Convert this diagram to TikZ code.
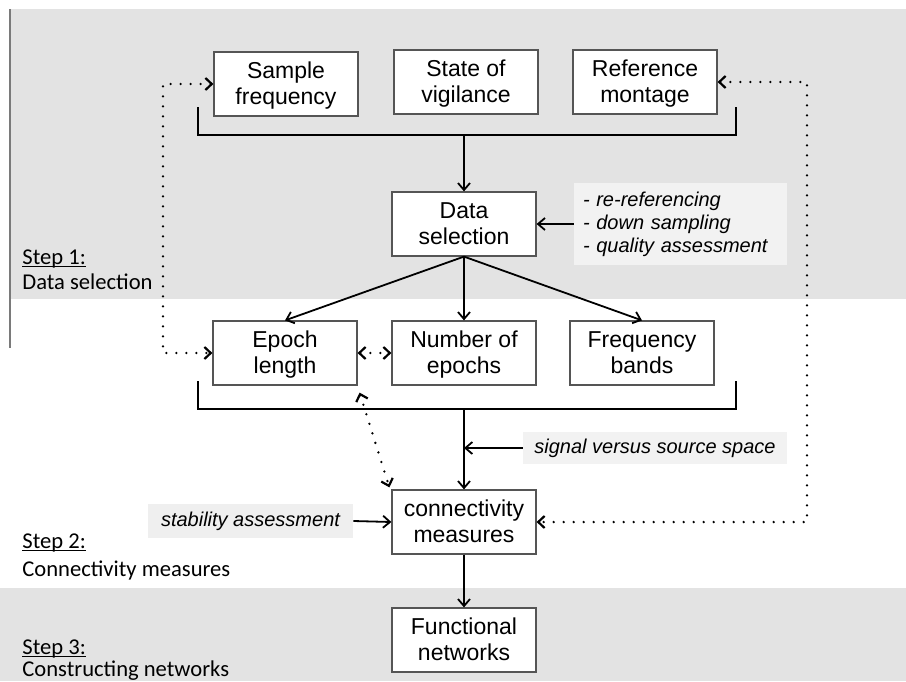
\documentclass[tikz,border=0pt]{standalone}
\usepackage{fontspec}
\setmainfont{Liberation Sans}
\newfontfamily\stepfont{Carlito}
\usetikzlibrary{arrows.meta}
\definecolor{band}{HTML}{E3E3E3}
\definecolor{note}{HTML}{F2F2F2}
\definecolor{notew}{HTML}{EFEFEF}
\definecolor{frame}{HTML}{555555}
\definecolor{edge}{HTML}{7A7A7A}
% underline that sits just under the baseline (descenders cross it)
\newcommand\stepul[1]{\setbox0\hbox{#1}\rlap{\rule[-1.3pt]{\wd0}{0.55pt}}\box0}
% two-line box label with equal line heights
\newcommand\bstrut{\rule[-2.7pt]{0pt}{13pt}}
\newcommand\twoline[2]{\bstrut#1\\\bstrut#2}

\begin{document}
\begin{tikzpicture}[x=0.5pt,y=-0.5pt,
  box/.style={draw=frame,line width=0.6pt,fill=white,minimum width=72pt,
    minimum height=32pt,align=center,inner sep=0pt,
    font=\fontsize{11.5}{13}\selectfont},
  notebox/.style={fill=note,inner sep=0pt,font=\fontsize{10}{11.5}\selectfont\itshape},
  steplbl/.style={anchor=base west,inner sep=0pt,font=\fontsize{11.3}{13}\stepfont},
  flow/.style={line width=0.9pt,-{Straight Barb[length=3.5pt,width=6pt]}},
  bracket/.style={line width=0.9pt},
  dotline/.style={line width=1.3pt,line cap=round,dash pattern=on 0pt off 5pt,
    {Straight Barb[length=3.2pt,width=6pt,line width=1.1pt]}-{Straight Barb[length=3.2pt,width=6pt,line width=1.1pt]}}]

\useasboundingbox (0,0) rectangle (906,681);

% shaded bands for steps 1 and 3
\fill[band] (10,9) rectangle (906,299);
\fill[band] (0,588) rectangle (906,681);
\draw[edge,line width=0.6pt] (10,9) -- (10,348);

% step labels
\node[steplbl] (s1a) at (22,264) {\stepul{Step 1:}};
\node[steplbl] (s1b) at (22,289) {Data selection};
\node[steplbl] (s2a) at (22,548) {\stepul{Step 2:}};
\node[steplbl] (s2b) at (22,576) {Connectivity measures};
\node[steplbl] (s3a) at (22,654) {\stepul{Step 3:}};
\node[steplbl] (s3b) at (22,676) {Constructing networks};

% boxes
\node[box] (sf) at (286,84) {\twoline{Sample}{frequency}};
\node[box] (sv) at (466,82) {\twoline{State of}{vigilance}};
\node[box] (rm) at (645,82) {\twoline{Reference}{montage}};
\node[box] (ds) at (464,224) {\twoline{Data}{selection}};
\node[box] (el) at (285,353) {\twoline{Epoch}{length}};
\node[box] (ne) at (464,353) {\twoline{Number of}{epochs}};
\node[box] (fb) at (642,353) {\twoline{Frequency}{bands}};
\node[box] (cm) at (464,522) {\twoline{connectivity}{measures}};
\node[box] (fn) at (464,640) {\twoline{Functional}{networks}};

% side notes
\node[notebox,text width=97.5pt,inner xsep=4.5pt,minimum height=41pt,align=left]
  (rr) at (680.5,224) {- re-referencing\\- down sampling\\- quality assessment};
\node[notebox,minimum width=132pt,minimum height=16pt] (sig) at (655,448) {signal versus source space};
\node[notebox,fill=notew,minimum width=102.5pt,minimum height=17pt] (stab) at (250.5,521) {stability assessment};

% brackets joining the box rows
\coordinate (b1l) at (198,107);
\coordinate (b1r) at (736,107);
\coordinate (j1) at (464,135);
\draw[bracket] (b1l) |- (j1) -| (b1r);
\coordinate (b2l) at (198,381);
\coordinate (b2r) at (736,381);
\coordinate (j2) at (464,409);
\draw[bracket] (b2l) |- (j2) -| (b2r);

% solid flow
\draw[flow] (j1) -- (ds.north);
\draw[flow] (rr.west) -- (ds.east);
\draw[flow] (ds.south) -- (el.north);
\draw[flow] (ds.south) -- (ne.north);
\draw[flow] (ds.south) -- (fb.north);
\draw[flow] (j2) -- (cm.north);
\draw[flow] (sig.west) -- (sig.west -| cm.north);
\draw[flow] (stab.east) -- (cm.west);
\draw[flow] (cm.south) -- (fn.north);

% dotted dependencies
\coordinate (lx) at (163,0);
\coordinate (rx) at (807,0);
\draw[dotline] (sf.west) -- (sf.west -| lx) -- (el.west -| lx) -- (el.west);
\draw[dotline] (rm.east) -- (rm.east -| rx) -- (cm.east -| rx) -- (cm.east);
\draw[dotline] (el.east) -- (ne.west);
\draw[dotline] ([shift={(2,7)}]el.south east) -- ([shift={(-2,-2)}]cm.north west);
\end{tikzpicture}
\end{document}
